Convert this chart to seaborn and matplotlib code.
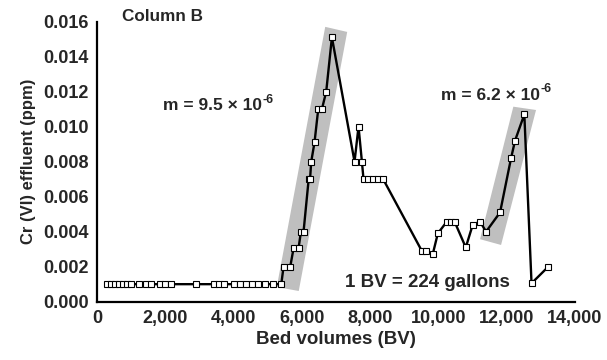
import matplotlib
matplotlib.use("Agg")
import matplotlib.pyplot as plt
from matplotlib.patches import Polygon
import seaborn as sns
import pandas as pd

# ---- data ----
bed_volumes = [302, 419, 536, 653, 770, 887, 1004, 1239, 1444, 1590, 1853, 2000, 2177,
               2908, 3435, 3582, 3728, 4021, 4197, 4373, 4548, 4724, 4929, 5163, 5397,
               5464, 5660, 5757, 5903, 5973, 6050, 6200, 6240, 6275, 6371, 6480, 6588,
               6714, 6881, 7544, 7661, 7760, 7807, 7944, 8090, 8237, 8383,
               9516, 9642, 9838, 9985, 10248, 10359, 10476, 10804, 11009, 11223, 11399,
               11809, 12131, 12248, 12520, 12731, 13223]
cr_effluent = [0.001] * 25 + [
    0.002, 0.002, 0.00305, 0.00305, 0.004, 0.004, 0.007, 0.007, 0.008, 0.0091,
    0.011, 0.011, 0.012, 0.0151, 0.0080, 0.0100, 0.0080, 0.0070, 0.0070, 0.0070,
    0.0070, 0.0070, 0.0029, 0.0029, 0.00273, 0.0039, 0.00457, 0.00457, 0.00457,
    0.0031, 0.0044, 0.00457, 0.0040, 0.0051, 0.0082, 0.0092, 0.0107, 0.00105, 0.0020]

band1_corners = [(6685, 0.0157), (7329, 0.01541), (5909, 0.00061), (5265, 0.00084)]
band2_corners = [(12198, 0.01114), (12863, 0.01095), (11838, 0.00324), (11223, 0.00357)]

x_ticks = [0, 2000, 4000, 6000, 8000, 10000, 12000, 14000]
x_tick_labels = ["0", "2,000", "4,000", "6,000", "8,000", "10,000", "12,000", "14,000"]
y_ticks = [0.000, 0.002, 0.004, 0.006, 0.008, 0.010, 0.012, 0.014, 0.016]
y_tick_labels = ["0.000", "0.002", "0.004", "0.006", "0.008", "0.010", "0.012",
                 "0.014", "0.016"]

slope_labels = ["m = 9.5 \u00d7 10", "m = 6.2 \u00d7 10"]
slope_exp = "-6"

df = pd.DataFrame({"BV": bed_volumes, "Cr": cr_effluent})

sns.set_style("white")
plt.rcParams["font.family"] = ["Liberation Sans", "DejaVu Sans"]
plt.rcParams["font.weight"] = "bold"

fig = plt.figure(figsize=(6.07, 3.60), dpi=100)
ax = fig.add_axes([0.160, 0.162, 0.787, 0.778])

for corners in (band1_corners, band2_corners):
    ax.add_patch(Polygon(corners, closed=True, facecolor="#bfbfbf",
                         edgecolor="none", zorder=1))

sns.lineplot(data=df, x="BV", y="Cr", sort=False, ax=ax, color="black",
             linewidth=1.7, marker="s", markersize=4.5, markerfacecolor="white",
             markeredgecolor="black", markeredgewidth=0.8, zorder=3)

ax.set_xlim(0, 14000)
ax.set_ylim(0, 0.016)
ax.set_xticks(x_ticks, labels=x_tick_labels, fontweight="bold", fontsize=13)
ax.set_yticks(y_ticks, labels=y_tick_labels, fontweight="bold", fontsize=13)
ax.tick_params(direction="in", length=5, width=1, pad=6)

for s in ("top", "right"):
    ax.spines[s].set_visible(False)
for s in ("left", "bottom"):
    ax.spines[s].set_linewidth(1.6)
    ax.spines[s].set_color("black")

ax.set_xlabel("Bed volumes (BV)", fontsize=13.5, fontweight="bold", labelpad=3)
ax.set_ylabel("Cr (VI) effluent (ppm)", fontsize=12, fontweight="bold", labelpad=5)

ax.text(0.052, 1.017, "Column B", transform=ax.transAxes, fontsize=12.3,
        fontweight="bold", va="center", ha="left", clip_on=False)

for label, pos in zip(slope_labels, [(0.138, 0.70), (0.720, 0.737)]):
    t = ax.text(pos[0], pos[1], label, transform=ax.transAxes,
                fontsize=12.5, fontweight="bold", va="center", ha="left")
    ax.annotate(slope_exp, xy=(1, 1), xycoords=t, xytext=(0.5, -1),
                textcoords="offset points", fontsize=9, fontweight="bold",
                va="center", ha="left")

ax.text(0.519, 0.067, "1 BV = 224 gallons", transform=ax.transAxes,
        fontsize=13.5, fontweight="bold", va="center", ha="left")

fig.savefig("out.png", dpi=100)
